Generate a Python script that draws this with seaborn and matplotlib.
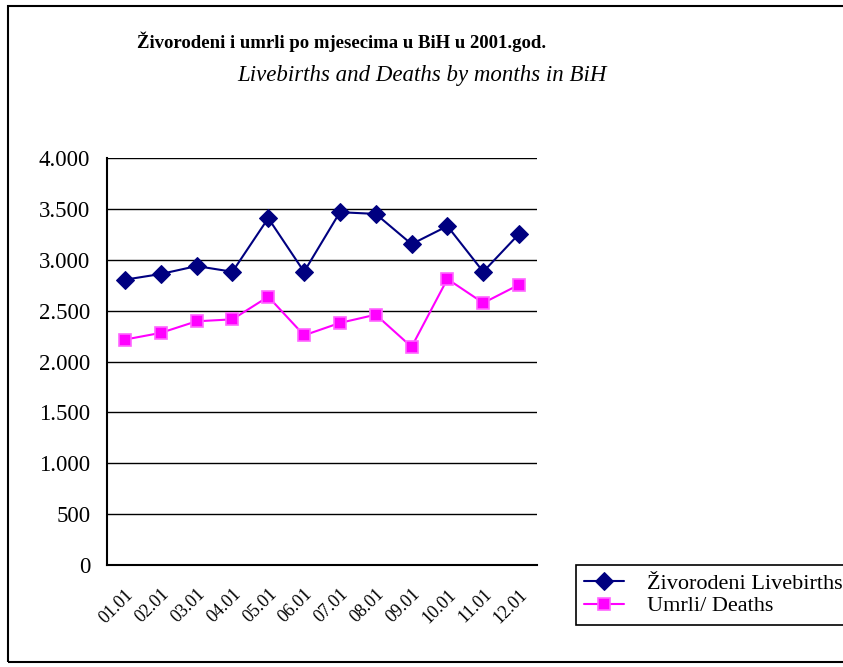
import matplotlib
matplotlib.use("Agg")
import matplotlib.pyplot as plt
import matplotlib.ticker as mticker
from matplotlib.patches import Rectangle
import seaborn as sns
import pandas as pd
import numpy as np

months = ["01.01", "02.01", "03.01", "04.01", "05.01", "06.01",
          "07.01", "08.01", "09.01", "10.01", "11.01", "12.01"]
livebirths = [2806, 2862, 2940, 2884, 3411, 2884, 3470, 3453, 3156, 3333, 2884, 3257]
deaths = [2217, 2283, 2397, 2416, 2639, 2259, 2381, 2462, 2145, 2813, 2577, 2757]
series_names = ["Živorodeni Livebirths", "Umrli/ Deaths"]
title = "Živorodeni i umrli po mjesecima u BiH u 2001.god."
subtitle = "Livebirths and Deaths by months in BiH"

sns.set_style("white")
plt.rcParams["font.family"] = ["Liberation Serif", "DejaVu Serif"]
plt.rcParams["text.color"] = "black"
plt.rcParams["xtick.color"] = "black"
plt.rcParams["ytick.color"] = "black"
plt.rcParams["axes.labelcolor"] = "black"

fig = plt.figure(figsize=(8.43, 6.67), dpi=100)
ax = fig.add_axes([107/843, 1-565/667, (537-107)/843, (565-158.3)/667])

df = pd.DataFrame({"x": np.arange(len(months)), "lb": livebirths, "d": deaths})
sns.lineplot(data=df, x="x", y="lb", ax=ax, color="#000080", marker="D",
             markersize=9.5, markeredgecolor="#000080", linewidth=1.5,
             label=series_names[0])
sns.lineplot(data=df, x="x", y="d", ax=ax, color="#FF00FF", marker="s",
             markersize=9, markeredgecolor="#FF66FF", markerfacecolor="#FF00FF",
             markeredgewidth=1.2, linewidth=1.5, label=series_names[1])

ax.set_xlim(-0.5, len(months) - 0.5)
ax.set_ylim(0, 4000)
ax.set_yticks(np.arange(0, 4001, 500))
ax.yaxis.set_major_formatter(mticker.FuncFormatter(
    lambda v, p: f"{int(v):,}".replace(",", ".")))
ax.yaxis.grid(True, color="black", linewidth=1)
ax.xaxis.grid(False)
ax.set_axisbelow(True)

ax.set_xticks(np.arange(-0.5, len(months), 1.0))
ax.set_xticklabels([])
ax.set_xticks(np.arange(len(months)), minor=True)
ax.set_xticklabels(months, minor=True, rotation=45, ha="right",
                   rotation_mode="anchor", fontsize=13)
ax.tick_params(axis="x", which="major", direction="out", length=7, width=1.2, color="black")
ax.tick_params(axis="x", which="minor", length=0, pad=15)
ax.tick_params(axis="y", direction="out", length=7, width=1.2, color="black",
               labelsize=16.5, pad=5)

for s in ["top", "right"]:
    ax.spines[s].set_visible(False)
for s in ["left", "bottom"]:
    ax.spines[s].set_color("black")
    ax.spines[s].set_linewidth(1.5)
ax.set_xlabel("")
ax.set_ylabel("")

ax.legend().remove()
handles, labels = ax.get_legend_handles_labels()
leg = fig.legend(handles, labels, loc="upper left",
                 bbox_to_anchor=(576/843, 1-565/667), frameon=True,
                 fancybox=False, framealpha=1, edgecolor="black",
                 fontsize=16, handlelength=1.8, borderpad=0.38,
                 labelspacing=0.08, handletextpad=1.0, borderaxespad=0)
leg.get_frame().set_linewidth(1.2)

fig.text(342/843, 1-42/667, title, ha="center", va="center",
         fontsize=13.5, fontweight="bold")
fig.text(422/843, 1-75/667, subtitle, ha="center", va="center",
         fontsize=16.5, style="italic")

fig.patches.append(Rectangle((8/843, 5/667), 1.2, 1-10/667 - 1/667,
                             transform=fig.transFigure, fill=False,
                             edgecolor="black", linewidth=1.5))

fig.savefig("out.png", dpi=100)
